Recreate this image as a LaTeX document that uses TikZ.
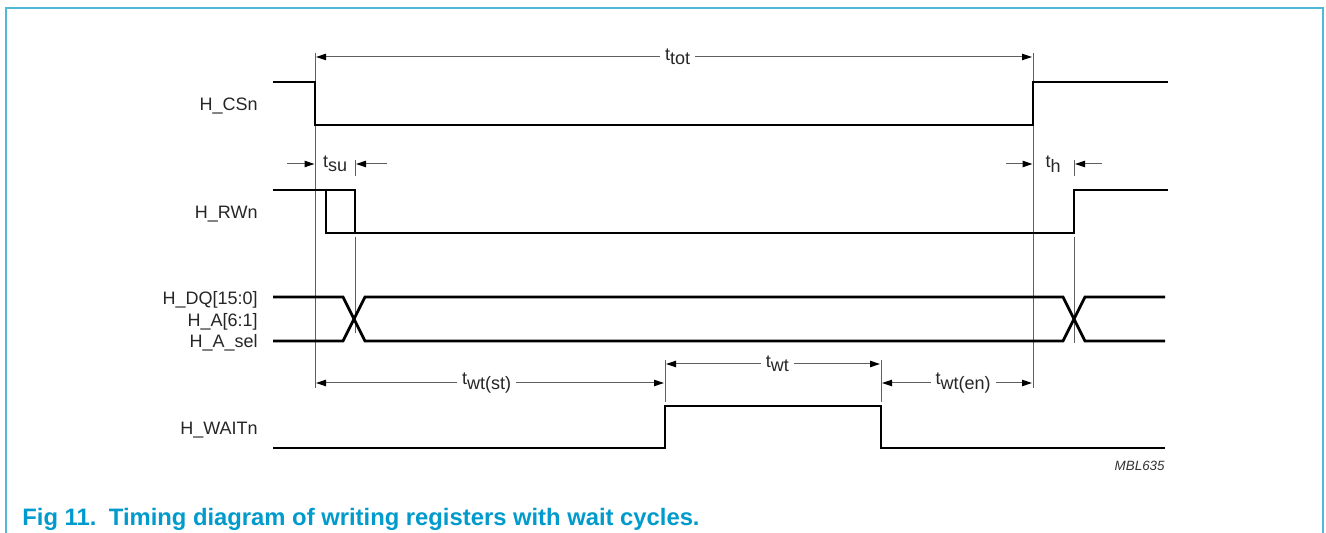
\documentclass[tikz,border=0pt]{standalone}
\usepackage{fontspec}
\setmainfont{Liberation Sans}
\usetikzlibrary{arrows.meta}
\definecolor{capblue}{RGB}{0,155,204}
\definecolor{framecol}{RGB}{80,185,215}
\definecolor{guide}{RGB}{95,95,95}
\newcommand{\tlab}[1]{t\raisebox{-2.2pt}{#1}}
\begin{document}
\begin{tikzpicture}[x=0.5pt,y=-0.5pt,
  sig/.style={line width=1.4pt, black, line join=miter},
  guideline/.style={line width=0.5pt, draw=guide},
  dim/.style={line width=0.5pt, draw=guide, {Triangle[length=5pt,width=3.2pt,color=black]}-{Triangle[length=5pt,width=3.2pt,color=black]}},
  onedim/.style={line width=0.5pt, draw=guide, -{Triangle[length=5pt,width=3.2pt,color=black]}},
  lab/.style={font=\fontsize{9pt}{10pt}\selectfont, anchor=base east, inner sep=0pt, text=black!85},
  tl/.style={font=\fontsize{9pt}{10pt}\selectfont, fill=white, inner sep=2.5pt, text=black!85}
]
\useasboundingbox (0,0) rectangle (1326,533);
% frame
\draw[framecol, line width=0.6pt] (6,533) -- (6,8) -- (1323,8) -- (1323,533);

% reference coordinates
\coordinate (g1t) at (315,53);  \coordinate (g1b) at (315,388);
\coordinate (g2t) at (1033,53); \coordinate (g2b) at (1033,388);

% guide lines
\draw[guideline] (g1t) -- (g1b);
\draw[guideline] (g2t) -- (g2b);
\draw[guideline] (355,160) -- (355,176);
\draw[guideline] (355,237) -- (355,333);
\draw[guideline] (1074,160) -- (1074,176);
\draw[guideline] (1074,237) -- (1074,343);
\draw[guideline] (665,360) -- (665,402);
\draw[guideline] (881,360) -- (881,402);

% dimension arrows
\draw[dim] (316,57) -- (1032,57) node[tl, pos=0.505] (ttot) {\tlab{tot}};
\coordinate (su1) at (287,164); \coordinate (su2) at (314.5,164);
\draw[onedim] (su1) -- (su2);
\coordinate (su3) at (387,164); \coordinate (su4) at (356,164);
\draw[onedim] (su3) -- (su4);
\node[font=\fontsize{9pt}{10pt}\selectfont, inner sep=0pt, text=black!85] (tsu) at (335,164) {\tlab{su}};
\coordinate (h1) at (1006,164); \coordinate (h2) at (1032.5,164);
\draw[onedim] (h1) -- (h2);
\coordinate (h3) at (1102,164); \coordinate (h4) at (1075,164);
\draw[onedim] (h3) -- (h4);
\node[font=\fontsize{9pt}{10pt}\selectfont, inner sep=0pt, text=black!85] (th) at (1053,164) {\tlab{h}};
\draw[dim] (316,383) -- (664,383) node[tl, pos=0.49] (twst) {\tlab{wt(st)}};
\draw[dim] (666,364) -- (880,364) node[tl, pos=0.52] (twt) {\tlab{wt}};
\draw[dim] (882,383) -- (1032,383) node[tl, pos=0.54] (twen) {\tlab{wt(en)}};

% signal labels
\node[lab] (lcs) at (258,111) {H\_CSn};
\node[lab] (lrw) at (258,219) {H\_RWn};
\node[lab] (ldq) at (258,305) {H\_DQ[15:0]};
\node[lab] (la)  at (258,327) {H\_A[6:1]};
\node[lab] (las) at (258,348) {H\_A\_sel};
\node[lab] (lw)  at (258,435) {H\_WAITn};

% signals
\draw[sig] (273,82) -- (315,82) -- (315,125) -- (1033,125) -- (1033,82) -- (1168,82);
\draw[sig] (273,190) -- (355,190) -- (355,233);
\draw[sig] (326,190) -- (326,233) -- (1074,233) -- (1074,190) -- (1168,190);
\draw[sig] (273,297) -- (343,297) -- (365,341) -- (1063,341) -- (1085,297) -- (1165,297);
\draw[sig] (273,341) -- (343,341) -- (365,297) -- (1063,297) -- (1085,341) -- (1165,341);
\draw[sig] (273,448) -- (665,448) -- (665,406) -- (881,406) -- (881,448) -- (1165,448);

% id
\node[font=\fontsize{6.7pt}{8pt}\selectfont\itshape, anchor=base east, inner sep=0pt, text=black!80] (id) at (1165,471) {MBL635};
% caption
\node[font=\fontsize{11.9pt}{13pt}\selectfont\bfseries, anchor=base west, inner sep=0pt, text=capblue] (cap) at (22,525) {Fig 11.\hspace{0.15em} Timing diagram of writing registers with wait cycles.};
\end{tikzpicture}
\end{document}
